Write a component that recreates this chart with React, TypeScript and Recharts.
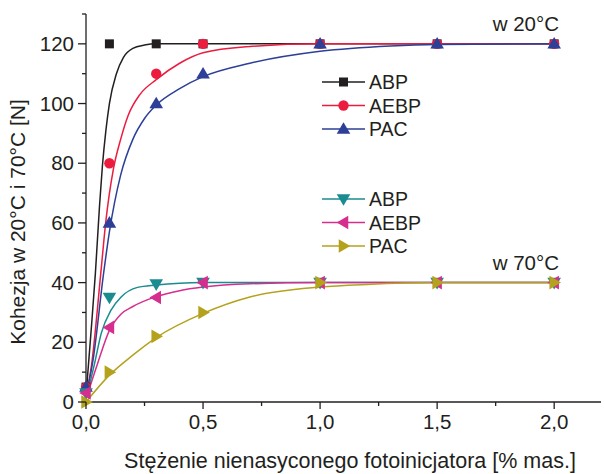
import React from 'react';
import { ComposedChart, Line, Scatter, XAxis, YAxis, Customized } from 'recharts';

// measured points [x, y]
const abp20 = [[0, 5], [0.1, 120], [0.3, 120], [0.5, 120], [1.0, 120], [1.5, 120], [2.0, 120]];
const aebp20 = [[0, 5], [0.1, 80], [0.3, 110], [0.5, 120], [1.0, 120], [1.5, 120], [2.0, 120]];
const pac20 = [[0, 5], [0.1, 60], [0.3, 100], [0.5, 110], [1.0, 120], [1.5, 120], [2.0, 120]];
const abp70 = [[0, 3], [0.1, 35], [0.3, 39.5], [0.5, 40], [1.0, 40], [1.5, 40], [2.0, 40]];
const aebp70 = [[0, 3], [0.1, 25], [0.3, 35], [0.5, 40], [1.0, 40], [1.5, 40], [2.0, 40]];
const pac70 = [[0, 0], [0.1, 10], [0.3, 22], [0.5, 30], [1.0, 40], [1.5, 40], [2.0, 40]];

// fitted curves
const abp20Fit = [[0, 2], [0.02, 22], [0.04, 43], [0.058, 66], [0.07, 79], [0.085, 91], [0.1, 100], [0.13, 110], [0.16, 115.5], [0.2, 118.5], [0.25, 119.6], [0.3, 120], [2.0, 120]];
const aebp20Fit = [[0, 2], [0.023, 12], [0.063, 43], [0.084, 60], [0.117, 78], [0.148, 88], [0.18, 96], [0.23, 103], [0.3, 108], [0.4, 113.5], [0.5, 117], [0.7, 119.1], [1.0, 120], [2.0, 120]];
const pac20Fit = [[0, 2], [0.03, 14], [0.075, 43], [0.1, 57], [0.148, 76], [0.2, 88], [0.25, 95], [0.3, 99.5], [0.4, 105], [0.5, 109], [0.7, 113.5], [1.0, 117.5], [1.3, 119.3], [1.5, 119.8], [2.0, 120]];
const abp70Fit = [[0, 1], [0.037, 13], [0.065, 23], [0.107, 30.8], [0.15, 35.2], [0.22, 38.4], [0.3, 39.2], [0.4, 39.8], [0.5, 40], [2.0, 40]];
const aebp70Fit = [[0, 1], [0.05, 13], [0.1, 24], [0.15, 29.5], [0.2, 32], [0.3, 35.3], [0.4, 37.3], [0.5, 38.5], [0.7, 39.6], [1.0, 40], [2.0, 40]];
const pac70Fit = [[0, 0], [0.1, 9], [0.2, 15.7], [0.3, 21.6], [0.5, 29.7], [0.7, 35.2], [1.0, 38.5], [1.2, 39.4], [1.5, 40], [2.0, 40]];

const xTicks = [0, 0.25, 0.5, 0.75, 1.0, 1.25, 1.5, 1.75, 2.0];
const yTicks = [0, 10, 20, 30, 40, 50, 60, 70, 80, 90, 100, 110, 120, 130];

const INK = '#231f20';
const FONT = '"Liberation Sans", Arial, sans-serif';

const toPts = (arr: number[][]) => arr.map(([x, y]) => ({ x, y }));

type Kind = 'square' | 'circle' | 'up' | 'down' | 'left' | 'right';

const Marker = ({ cx, cy, kind, color }: { cx: number; cy: number; kind: Kind; color: string }) => {
  const s = 5.2;
  const t = 6.8;
  switch (kind) {
    case 'square':
      return <rect x={cx - 4.5} y={cy - 4.5} width={9} height={9} fill={color} />;
    case 'circle':
      return <circle cx={cx} cy={cy} r={s} fill={color} />;
    case 'up':
      return <polygon points={`${cx},${cy - t} ${cx + t},${cy + t * 0.7} ${cx - t},${cy + t * 0.7}`} fill={color} />;
    case 'down':
      return <polygon points={`${cx},${cy + t} ${cx + t},${cy - t * 0.7} ${cx - t},${cy - t * 0.7}`} fill={color} />;
    case 'left':
      return <polygon points={`${cx - t},${cy} ${cx + t * 0.7},${cy - t} ${cx + t * 0.7},${cy + t}`} fill={color} />;
    default:
      return <polygon points={`${cx + t},${cy} ${cx - t * 0.7},${cy - t} ${cx - t * 0.7},${cy + t}`} fill={color} />;
  }
};

const series = [
  { name: 'ABP', pts: abp20, fit: abp20Fit, color: '#231f20', kind: 'square' as Kind },
  { name: 'AEBP', pts: aebp20, fit: aebp20Fit, color: '#ec1c3f', kind: 'circle' as Kind },
  { name: 'PAC', pts: pac20, fit: pac20Fit, color: '#2d3f96', kind: 'up' as Kind },
  { name: 'ABP', pts: abp70, fit: abp70Fit, color: '#1a8b8f', kind: 'down' as Kind },
  { name: 'AEBP', pts: aebp70, fit: aebp70Fit, color: '#d52e8e', kind: 'left' as Kind },
  { name: 'PAC', pts: pac70, fit: pac70Fit, color: '#b4a21c', kind: 'right' as Kind },
];

const XTick = (props: any) => {
  const { x, y, payload } = props;
  const v = payload.value;
  const major = Math.abs(v * 2 - Math.round(v * 2)) < 1e-6;
  return (
    <g>
      <line x1={x} x2={x} y1={y} y2={y + (major ? 7 : 4)} stroke={INK} strokeWidth={1.3} />
      {major && (
        <text x={x} y={y + 27} textAnchor="middle" fontSize={20.5} fontFamily={FONT} fill={INK}>
          {v.toFixed(1).replace('.', ',')}
        </text>
      )}
    </g>
  );
};

const YTick = (props: any) => {
  const { x, y, payload } = props;
  const v = payload.value;
  const major = v % 20 === 0;
  return (
    <g>
      <line x1={x} x2={x - (major ? 8 : 4)} y1={y} y2={y} stroke={INK} strokeWidth={1.3} />
      {major && (
        <text x={x - 12} y={y + 7} textAnchor="end" fontSize={20.5} fontFamily={FONT} fill={INK}>
          {v}
        </text>
      )}
    </g>
  );
};

const LegendBlock = ({ items, top }: { items: typeof series; top: number }) => (
  <g>
    {items.map((s, i) => {
      const cy = top + i * 23.5;
      return (
        <g key={i}>
          <line x1={322} x2={365} y1={cy} y2={cy} stroke={s.color} strokeWidth={1.6} />
          <Marker cx={343.5} cy={cy} kind={s.kind} color={s.color} />
          <text x={369} y={cy + 7} fontSize={19.5} fontFamily={FONT} fill={INK}>{s.name}</text>
        </g>
      );
    })}
  </g>
);

const Overlay = () => (
  <g>
    <LegendBlock items={series.slice(0, 3)} top={82} />
    <LegendBlock items={series.slice(3)} top={199} />
    <text x={559} y={31} textAnchor="end" fontSize={20.5} fontFamily={FONT} fill={INK}>w 20°C</text>
    <text x={559} y={270} textAnchor="end" fontSize={20.5} fontFamily={FONT} fill={INK}>w 70°C</text>
    <text x={350} y={468} textAnchor="middle" fontSize={21.5} fontFamily={FONT} fill={INK}>
      Stężenie nienasyconego fotoinicjatora [% mas.]
    </text>
    <text
      x={0}
      y={0}
      transform="translate(25,222) rotate(-90)"
      textAnchor="middle"
      fontSize={21}
      fontFamily={FONT}
      fill={INK}
    >
      Kohezja w 20°C i 70°C [N]
    </text>
  </g>
);

export default function App() {
  return (
    <div>
      <style>{`body{margin:0}`}</style>
      <ComposedChart width={605} height={474} margin={{ top: 14, right: 4, bottom: 0, left: 0 }}>
        <XAxis
          type="number"
          dataKey="x"
          domain={[0, 2.2]}
          ticks={xTicks}
          interval={0}
          height={72}
          tickSize={0}
          tickMargin={0}
          tickLine={false}
          axisLine={{ stroke: INK, strokeWidth: 1.3 }}
          tick={<XTick />}
        />
        <YAxis
          type="number"
          dataKey="y"
          domain={[0, 130]}
          ticks={yTicks}
          interval={0}
          width={86}
          tickSize={0}
          tickMargin={0}
          tickLine={false}
          axisLine={{ stroke: INK, strokeWidth: 1.3 }}
          tick={<YTick />}
        />
        {series.map((s, i) => (
          <Line
            key={`fit-${i}`}
            data={toPts(s.fit)}
            dataKey="y"
            type="monotone"
            stroke={s.color}
            strokeWidth={1.5}
            dot={false}
            activeDot={false}
            isAnimationActive={false}
          />
        ))}
        {series.map((s, i) => (
          <Scatter
            key={`pts-${i}`}
            data={toPts(s.pts)}
            dataKey="y"
            fill={s.color}
            isAnimationActive={false}
            shape={(p: any) => <Marker cx={p.cx} cy={p.cy} kind={s.kind} color={s.color} />}
          />
        ))}
        <Customized component={Overlay} />
      </ComposedChart>
    </div>
  );
}
